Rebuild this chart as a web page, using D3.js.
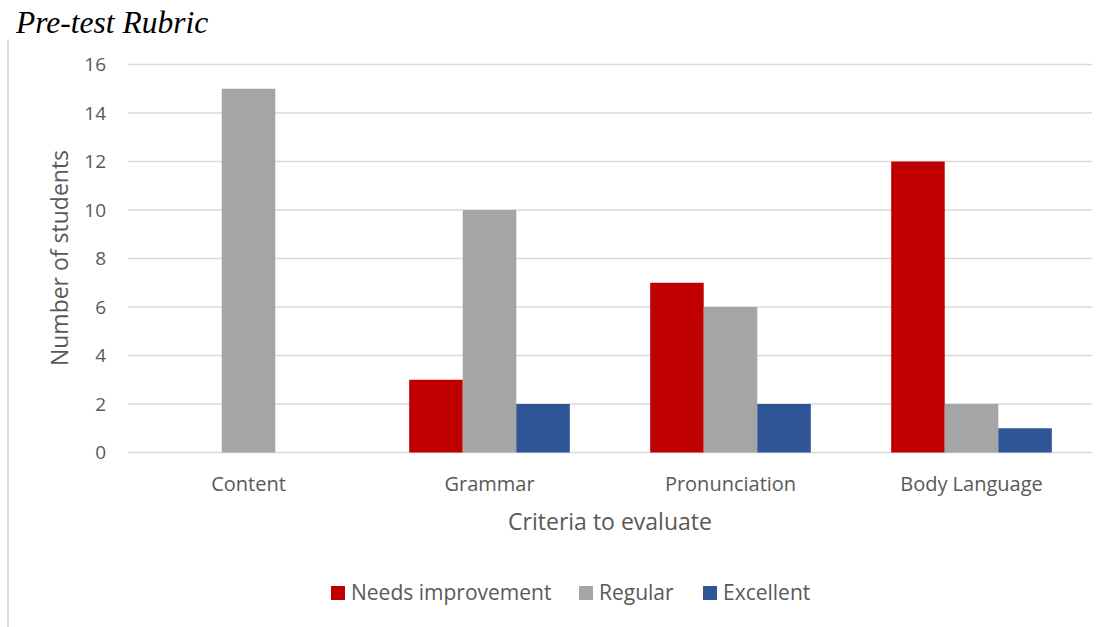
<!DOCTYPE html>
<html><head><meta charset="utf-8">
<script src="https://cdn.jsdelivr.net/npm/d3@7"></script>
<style>body{margin:0;background:#fff}</style>
</head><body>
<svg id="c" width="1112" height="627"></svg>
<script>
const categories = ["Content", "Grammar", "Pronunciation", "Body Language"];
const seriesNames = ["Needs improvement", "Regular", "Excellent"];
const needsImprovement = [0, 3, 7, 12];
const regular = [15, 10, 6, 2];
const excellent = [0, 2, 2, 1];
const yTicks = [0, 2, 4, 6, 8, 10, 12, 14, 16];
const colors = ["#C00000", "#A5A5A5", "#2F5597"];
const series = [needsImprovement, regular, excellent];

const svg = d3.select("#c");
const font = "'Open Sans', 'Noto Sans', sans-serif";
const L = 128, R = 1092, T = 64.5, B = 452.5;

svg.append("line").attr("x1", 8).attr("x2", 8).attr("y1", 40).attr("y2", 627)
  .attr("stroke", "#D9D9D9").attr("stroke-width", 2);

svg.append("text").attr("x", 16).attr("y", 33).text("Pre-test Rubric")
  .attr("font-family", "'Liberation Serif', serif").attr("font-style", "italic")
  .attr("font-size", 31.5).attr("fill", "#000");

const y = d3.scaleLinear().domain([0, 16]).range([B, T]);
const x = d3.scaleBand().domain(categories).range([L, R]);
const step = x.step();
const barW = step * 0.2222;
const xs = d3.scaleBand().domain(d3.range(3)).range([0, barW * 3]);

svg.append("g").selectAll("line").data(yTicks).join("line")
  .attr("x1", L).attr("x2", R).attr("y1", d => y(d)).attr("y2", d => y(d))
  .attr("stroke", "#D9D9D9").attr("stroke-width", 1.3);

svg.append("g").selectAll("text").data(yTicks).join("text")
  .attr("x", 106).attr("y", d => y(d)).attr("dy", "0.35em").attr("text-anchor", "end")
  .attr("font-family", font).attr("font-size", 19).attr("fill", "#595959").text(d => d);

series.forEach((vals, si) => {
  svg.append("g").selectAll("rect").data(categories).join("rect")
    .attr("x", (c) => x(c) + step / 2 - 1.5 * barW + xs(si))
    .attr("width", xs.bandwidth())
    .attr("y", (c, i) => y(vals[i]))
    .attr("height", (c, i) => B - y(vals[i]))
    .attr("fill", colors[si]);
});

svg.append("g").selectAll("text").data(categories).join("text")
  .attr("x", c => x(c) + step / 2).attr("y", 491).attr("text-anchor", "middle")
  .attr("font-family", font).attr("font-size", 20).attr("fill", "#595959").text(c => c);

svg.append("text").attr("x", 610).attr("y", 530).attr("text-anchor", "middle")
  .attr("font-family", font).attr("font-size", 23).attr("fill", "#595959").text("Criteria to evaluate");

svg.append("text").attr("transform", "translate(68,258) rotate(-90)").attr("text-anchor", "middle")
  .attr("font-family", font).attr("font-size", 23).attr("fill", "#595959").text("Number of students");

const legX = [331, 579, 703];
const lg = svg.append("g");
seriesNames.forEach((n, i) => {
  lg.append("rect").attr("x", legX[i]).attr("y", 586).attr("width", 14).attr("height", 14).attr("fill", colors[i]);
  lg.append("text").attr("x", legX[i] + 20).attr("y", 600).attr("font-family", font)
    .attr("font-size", 21).attr("fill", "#595959").text(n);
});
</script>
</body></html>
